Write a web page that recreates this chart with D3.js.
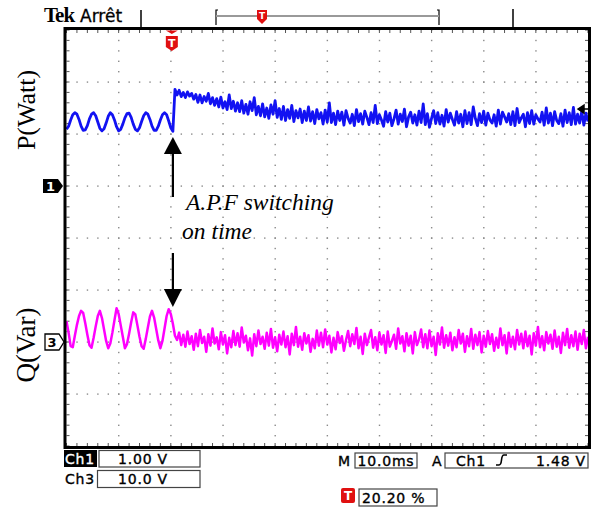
<!DOCTYPE html>
<html>
<head>
<meta charset="utf-8">
<script src="https://cdn.jsdelivr.net/npm/d3@7"></script>
<style>
  body { margin: 0; background: #fff; }
  svg { display: block; }
</style>
</head>
<body>
<svg id="scope" width="597" height="509"></svg>
<script>
// scope settings
const msPerDiv = 10;
const sampleMs = 0.4;
const ch1VoltsPerDiv = 1.0;
const ch3VoltsPerDiv = 10.0;
const ch1OffsetDiv = 1;   // ch1 ground marker, divisions above centre
const ch3OffsetDiv = -2;  // ch3 ground marker
const triggerPercent = 20.20;
const triggerLevel = 1.48;

// P trace (Ch1, volts), one value every 0.4 ms
const pValues = [
  1.09,1.15,1.27,1.37,1.41,1.38,1.28,1.15,1.07,1.08,
  1.16,1.29,1.38,1.41,1.35,1.23,1.11,1.06,1.10,1.21,
  1.34,1.41,1.37,1.27,1.14,1.06,1.09,1.19,1.31,1.39,
  1.40,1.32,1.19,1.09,1.06,1.12,1.24,1.35,1.41,1.38,
  1.28,1.15,1.07,1.07,1.15,1.27,1.37,1.41,1.37,1.25,
  1.12,1.05,
  1.86,1.75,1.84,1.72,1.80,1.70,1.81,1.73,1.78,1.67,
  1.76,1.61,1.75,1.60,1.72,1.63,1.78,1.58,1.70,1.55,
  1.68,1.52,1.71,1.50,1.62,1.47,1.75,1.49,1.63,1.44,
  1.60,1.43,1.64,1.40,1.57,1.38,1.62,1.45,1.70,1.37,
  1.53,1.35,1.58,1.33,1.50,1.30,1.56,1.38,1.64,1.32,
  1.49,1.28,1.53,1.26,1.47,1.30,1.55,1.24,1.45,1.31,
  1.48,1.22,1.44,1.26,1.52,1.25,1.43,1.20,1.47,1.29,
  1.41,1.19,1.46,1.23,1.60,1.22,1.40,1.18,1.44,1.26,
  1.42,1.17,1.45,1.30,1.21,1.38,1.16,1.47,1.24,1.39,
  1.19,1.44,1.32,1.18,1.41,1.22,1.55,1.20,1.37,1.27,
  1.15,1.43,1.23,1.40,1.16,1.29,1.46,1.19,1.38,1.24,
  1.48,1.14,1.33,1.42,1.21,1.37,1.17,1.44,1.22,1.58,
  1.18,1.39,1.13,1.30,1.45,1.20,1.41,1.19,1.36,1.15,
  1.47,1.23,1.40,1.28,1.17,1.43,1.21,1.38,1.14,1.45,
  1.20,1.41,1.18,1.52,1.30,1.16,1.39,1.22,1.44,1.17,
  1.40,1.27,1.21,1.37,1.15,1.46,1.19,1.42,1.33,1.23,
  1.39,1.18,1.43,1.16,1.49,1.22,1.31,1.38,1.14,1.41,
  1.20,1.45,1.19,1.37,1.29,1.23,1.42,1.17,1.50,1.21,
  1.40,1.16,1.43,1.26,1.20,1.39,1.15,1.46,1.22,1.41,
  1.18,1.51,1.19,1.38,1.21,1.44,1.17,1.40,1.24
];

// Q trace (Ch3, volts), one value every 0.4 ms
const qValues = [
  4.0,1.8,-0.8,-1.0,1.2,3.3,5.0,6.0,5.6,3.6,
  1.4,-0.6,-1.1,0.8,3.0,5.0,6.0,4.6,2.4,0.2,
  -1.2,-0.3,1.8,4.2,6.5,5.4,3.2,1.0,-1.2,-0.4,
  1.6,3.8,5.7,5.3,3.2,1.0,-0.8,-1.3,0.6,2.8,
  4.9,6.0,4.7,2.5,0.3,-1.2,0.2,2.6,5.0,6.3,
  5.4,3.5,
  1.2,0.4,1.8,-0.6,1.4,-0.9,2.0,-0.4,1.1,-1.5,
  1.6,-0.8,2.3,-0.2,1.0,-1.9,1.5,-0.7,2.6,-0.3,
  0.9,-1.4,1.9,-0.5,1.3,-2.2,0.8,-1.0,2.1,-0.6,
  1.7,-0.9,2.8,-0.1,1.2,-1.6,0.7,-2.6,1.5,-0.8,
  2.2,-0.4,1.0,-1.3,1.8,-0.7,2.5,-1.1,0.9,-1.8,
  1.4,-0.5,2.0,-1.0,1.1,-2.4,1.6,-0.6,2.9,-0.9,
  1.0,-1.5,1.7,-0.3,1.3,-1.9,0.6,-1.2,2.2,-0.7,
  1.8,-1.0,2.4,-0.5,1.2,-2.0,0.8,-1.4,1.9,-0.2,
  1.1,-1.7,0.4,2.1,-0.8,1.5,-0.4,2.7,-1.2,1.0,
  -2.3,1.6,-0.6,0.9,2.3,-1.1,0.9,-1.6,1.8,-0.5,
  1.3,-2.1,2.0,-0.9,0.2,1.4,-1.3,2.6,-0.3,1.1,
  -1.8,1.7,-0.7,1.2,-2.2,1.9,-0.6,0.5,2.4,-1.0,
  1.5,-1.2,2.2,-0.8,1.0,-2.5,1.7,-0.5,2.8,-1.1,
  1.3,-0.7,1.8,-1.6,0.9,-1.0,2.3,-0.3,1.6,-1.9,
  1.1,-0.8,2.5,-1.3,1.4,-0.6,1.9,-2.0,1.2,-0.9,
  2.1,-0.4,1.5,-1.7,0.8,-1.1,2.6,-0.6,1.3,-2.2,
  1.8,-0.9,1.0,-1.4,2.3,-0.5,1.6,-1.2,2.0,-0.8,
  1.2,-2.4,1.7,-0.7,2.9,-1.0,1.1,-1.6,1.9,-0.3,
  1.4,-1.3,2.2,-0.9,1.0,-2.1,1.8,-0.6,2.5,-1.1,
  1.3,-0.8,2.0,-1.5,1.6,-0.4,2.3,-1.2,1.0
];

// readouts
const chLabels = ["Ch1", "Ch3"];
const chScales = ["1.00 V", "10.0 V"];
const timebase = "10.0ms";
const annotation = ["A.P.F switching", "on time"];

const svg = d3.select("#scope");
const plotLeft = 66.5, plotRight = 588, plotTop = 30, plotBottom = 446;

const x = d3.scaleLinear().domain([0, 10 * msPerDiv]).range([plotLeft, plotRight]);
const y = d3.scaleLinear().domain([-4, 4]).range([plotBottom, plotTop]);

// dotted graticule
const grid = svg.append("g").attr("fill", "#8a8a8a");
d3.range(1, 10).forEach(dv => {
  d3.range(-4, 4.01, 0.2).forEach(v => {
    grid.append("rect").attr("x", x(dv * msPerDiv) - 0.6).attr("y", y(v) - 0.6)
      .attr("width", 1.4).attr("height", 1.4);
  });
});
d3.range(-3, 4).forEach(dv => {
  d3.range(0, 100.01, 2).forEach(t => {
    grid.append("rect").attr("x", x(t) - 0.6).attr("y", y(dv) - 0.6)
      .attr("width", 1.4).attr("height", 1.4);
  });
});
// edge ticks
const ticks = svg.append("g").attr("stroke", "#555").attr("stroke-width", 1);
d3.range(0, 100.01, 2).forEach(t => {
  ticks.append("line").attr("x1", x(t)).attr("x2", x(t)).attr("y1", plotTop).attr("y2", plotTop + 3);
  ticks.append("line").attr("x1", x(t)).attr("x2", x(t)).attr("y1", plotBottom).attr("y2", plotBottom - 3);
});
d3.range(-4, 4.01, 0.2).forEach(v => {
  ticks.append("line").attr("x1", plotLeft).attr("x2", plotLeft + 3).attr("y1", y(v)).attr("y2", y(v));
  ticks.append("line").attr("x1", plotRight).attr("x2", plotRight - 3).attr("y1", y(v)).attr("y2", y(v));
});

// traces
const pLine = d3.line()
  .x((d, i) => x(i * sampleMs))
  .y(d => y(d / ch1VoltsPerDiv + ch1OffsetDiv));
const qLine = d3.line()
  .x((d, i) => x(i * sampleMs))
  .y(d => y(d / ch3VoltsPerDiv + ch3OffsetDiv));

svg.append("path").datum(pValues).attr("d", pLine)
  .attr("fill", "none").attr("stroke", "#1212f2").attr("stroke-width", 2.8)
  .attr("stroke-linejoin", "round");
svg.append("path").datum(qValues).attr("d", qLine)
  .attr("fill", "none").attr("stroke", "#ff00ff").attr("stroke-width", 2.5)
  .attr("stroke-linejoin", "round");

// frame
svg.append("rect").attr("x", plotLeft - 1.5).attr("y", plotTop - 1.5)
  .attr("width", plotRight - plotLeft + 3).attr("height", plotBottom - plotTop + 3)
  .attr("fill", "none").attr("stroke", "#000").attr("stroke-width", 3);

// trigger level arrow on the right
const ty = y(triggerLevel / ch1VoltsPerDiv + ch1OffsetDiv);
svg.append("path")
  .attr("d", `M${plotRight - 10},${ty} L${plotRight - 4},${ty - 4} L${plotRight - 4},${ty + 4} Z M${plotRight - 4},${ty} H${plotRight}`)
  .attr("fill", "#000").attr("stroke", "#000").attr("stroke-width", 1.5);

// trigger position marker at top
const tx = x(triggerPercent);
svg.append("path").attr("d", `M${tx - 6},${plotTop + 0.5} H${tx + 6} L${tx},${plotTop + 4} Z`).attr("fill", "#e01010");
svg.append("path")
  .attr("d", `M${tx - 6},${plotTop + 6} H${tx + 6} V${plotTop + 17} L${tx},${plotTop + 21} L${tx - 6},${plotTop + 17} Z`)
  .attr("fill", "#e01010");
svg.append("text").attr("x", tx).attr("y", plotTop + 17).attr("text-anchor", "middle")
  .attr("font-family", "DejaVu Sans").attr("font-weight", "bold").attr("font-size", 11)
  .attr("fill", "#fff").text("T");

// header
svg.append("text").attr("x", 44).attr("y", 22)
  .attr("font-family", "Liberation Serif").attr("font-weight", "bold").attr("font-size", 21)
  .attr("letter-spacing", -1).text("Tek");
svg.append("text").attr("x", 80).attr("y", 22)
  .attr("font-family", "DejaVu Sans").attr("font-size", 17)
  .attr("stroke", "#000").attr("stroke-width", 0.3).text("Arrêt");
const hdr = svg.append("g").attr("stroke", "#000").attr("stroke-width", 1.5).attr("fill", "none");
hdr.append("line").attr("x1", 141).attr("x2", 141).attr("y1", 10).attr("y2", plotTop);
hdr.append("line").attr("x1", 513).attr("x2", 513).attr("y1", 9).attr("y2", plotTop);
hdr.append("path").attr("d", "M218,10 H216 V25").attr("stroke-width", 1.2);
hdr.append("path").attr("d", "M437,10 H439 V25").attr("stroke-width", 1.2);
hdr.append("line").attr("x1", 216).attr("x2", 439).attr("y1", 16).attr("y2", 16)
  .attr("stroke", "#999").attr("stroke-width", 2);
svg.append("path").attr("d", "M257,10 H267 V19 L262,24 L257,19 Z").attr("fill", "#e01010");
svg.append("text").attr("x", 262).attr("y", 19).attr("text-anchor", "middle")
  .attr("font-family", "DejaVu Sans").attr("font-weight", "bold").attr("font-size", 9)
  .attr("fill", "#fff").text("T");

// channel ground markers
const g1 = y(ch1OffsetDiv), g3 = y(ch3OffsetDiv);
svg.append("path").attr("d", `M43,${g1 - 7} H58 L63,${g1} L58,${g1 + 7} H43 Z`).attr("fill", "#000");
svg.append("text").attr("x", 50.5).attr("y", g1 + 5).attr("text-anchor", "middle")
  .attr("font-family", "DejaVu Sans").attr("font-weight", "bold").attr("font-size", 13)
  .attr("fill", "#fff").text("1");
svg.append("path").attr("d", `M45,${g3 - 8} H59 L64,${g3} L59,${g3 + 8} H45 Z`)
  .attr("fill", "#fff").attr("stroke", "#000").attr("stroke-width", 1.3);
svg.append("text").attr("x", 52).attr("y", g3 + 5).attr("text-anchor", "middle")
  .attr("font-family", "DejaVu Sans").attr("font-weight", "bold").attr("font-size", 13)
  .attr("fill", "#000").text("3");

// axis titles
svg.append("text").attr("transform", "translate(35,110) rotate(-90)").attr("text-anchor", "middle")
  .attr("font-family", "Liberation Serif").attr("font-size", 26).text("P(Watt)");
svg.append("text").attr("transform", "translate(35,345) rotate(-90)").attr("text-anchor", "middle")
  .attr("font-family", "Liberation Serif").attr("font-size", 27).text("Q(Var)");

// annotation arrows
const ax = x(20.4);
svg.append("line").attr("x1", ax).attr("x2", ax).attr("y1", 197).attr("y2", 152)
  .attr("stroke", "#000").attr("stroke-width", 2.2);
svg.append("path").attr("d", `M${ax},137 L${ax + 9},154 L${ax - 9},154 Z`).attr("fill", "#000");
svg.append("line").attr("x1", ax).attr("x2", ax).attr("y1", 253).attr("y2", 292)
  .attr("stroke", "#000").attr("stroke-width", 2.2);
svg.append("path").attr("d", `M${ax},307 L${ax + 9},289 L${ax - 9},289 Z`).attr("fill", "#000");
svg.append("text").attr("x", 186).attr("y", 210)
  .attr("font-family", "Liberation Serif").attr("font-style", "italic").attr("font-size", 23.5)
  .text(annotation[0]);
svg.append("text").attr("x", 182).attr("y", 239)
  .attr("font-family", "Liberation Serif").attr("font-style", "italic").attr("font-size", 23.5)
  .text(annotation[1]);

// bottom readouts
function txt(sel, tx, ty, s, anchor, colour) {
  return sel.append("text").attr("x", tx).attr("y", ty).attr("text-anchor", anchor || "start")
    .attr("font-family", "DejaVu Sans").attr("font-size", 14)
    .attr("letter-spacing", 0.8)
    .attr("fill", colour || "#000").attr("stroke", colour || "#000").attr("stroke-width", 0.35)
    .text(s);
}
function box(bx, by, w, h) {
  svg.append("rect").attr("x", bx).attr("y", by).attr("width", w).attr("height", h)
    .attr("fill", "none").attr("stroke", "#444").attr("stroke-width", 1.2);
}
svg.append("rect").attr("x", 64).attr("y", 450).attr("width", 33).attr("height", 17).attr("fill", "#000");
txt(svg, 65, 464, chLabels[0], "start", "#fff");
box(99, 450.5, 101, 16.5);
txt(svg, 143, 464, chScales[0], "middle");
txt(svg, 65, 484, chLabels[1]);
box(97.5, 470.5, 102.5, 17);
txt(svg, 143, 484, chScales[1], "middle");

txt(svg, 338, 466, "M");
box(355, 453, 62, 15);
txt(svg, 386, 466, timebase, "middle");
txt(svg, 432, 466, "A");
box(445, 453, 143, 15);
txt(svg, 456, 466, "Ch1");
svg.append("path").attr("d", "M496,465 H499 Q501,465 501.5,460 Q502,455 504,455 H507")
  .attr("fill", "none").attr("stroke", "#000").attr("stroke-width", 1.6);
txt(svg, 586, 466, triggerLevel.toFixed(2) + " V", "end");

svg.append("rect").attr("x", 341).attr("y", 488).attr("width", 14).attr("height", 15).attr("rx", 2)
  .attr("fill", "#e01010");
svg.append("text").attr("x", 348).attr("y", 500).attr("text-anchor", "middle")
  .attr("font-family", "DejaVu Sans").attr("font-weight", "bold").attr("font-size", 12)
  .attr("fill", "#fff").text("T");
box(359, 489, 78, 17);
txt(svg, 362, 503, triggerPercent.toFixed(2) + " %");
</script>
</body>
</html>
